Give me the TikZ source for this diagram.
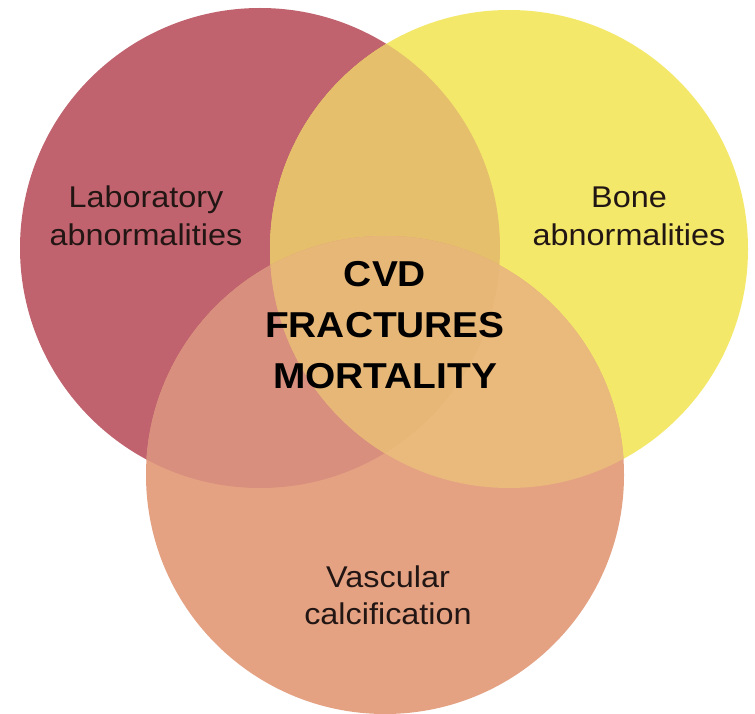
\documentclass[tikz,border=0pt]{standalone}
\usepackage{fontspec}
\setmainfont{Liberation Sans}[FakeStretch=1.08]
\definecolor{cred}{HTML}{C0636E}
\definecolor{cyel}{HTML}{F3E86A}
\definecolor{corg}{HTML}{E4A283}
\definecolor{cRY}{HTML}{E5BF6C}
\definecolor{cRO}{HTML}{D98F7E}
\definecolor{cYO}{HTML}{EAB97C}
\definecolor{cRYO}{HTML}{E7B777}
\definecolor{ctext}{HTML}{221614}
\tikzset{
  label/.style={inner sep=0pt, outer sep=0pt, text=ctext, font=\fontsize{30}{37}\selectfont},
  center label/.style={inner sep=0pt, outer sep=0pt, text=black, font=\fontsize{36}{50.5}\selectfont\bfseries}
}
\begin{document}
\begin{tikzpicture}[x=1pt,y=-1pt]
\useasboundingbox (0,0) rectangle (755,714);
\fill[white] (0,0) rectangle (755,714);
\def\circR{(260,248) circle[radius=240]}
\def\circY{(509,249) circle[radius=239]}
\def\circO{(385,475) circle[radius=239]}
\fill[cred] \circR;
\fill[cyel] \circY;
\fill[corg] \circO;
\begin{scope}\clip \circR; \fill[cRY] \circY; \end{scope}
\begin{scope}\clip \circR; \fill[cRO] \circO; \end{scope}
\begin{scope}\clip \circY; \fill[cYO] \circO; \end{scope}
\begin{scope}\clip \circR; \clip \circY; \fill[cRYO] \circO; \end{scope}
\node[label, anchor=base] (lab) at (146,208) {\begin{tabular}[t]{@{}c@{}}Laboratory\\abnormalities\end{tabular}};
\node[label, anchor=base] (bone) at (629,208) {\begin{tabular}[t]{@{}c@{}}Bone\\abnormalities\end{tabular}};
\node[label, anchor=base] (vasc) at (388,587) {\begin{tabular}[t]{@{}c@{}}Vascular\\calcification\end{tabular}};
\node[center label, anchor=base] (mid) at (385,287) {\begin{tabular}[t]{@{}c@{}}CVD\\FRACTURES\\MORTALITY\end{tabular}};
\end{tikzpicture}
\end{document}
